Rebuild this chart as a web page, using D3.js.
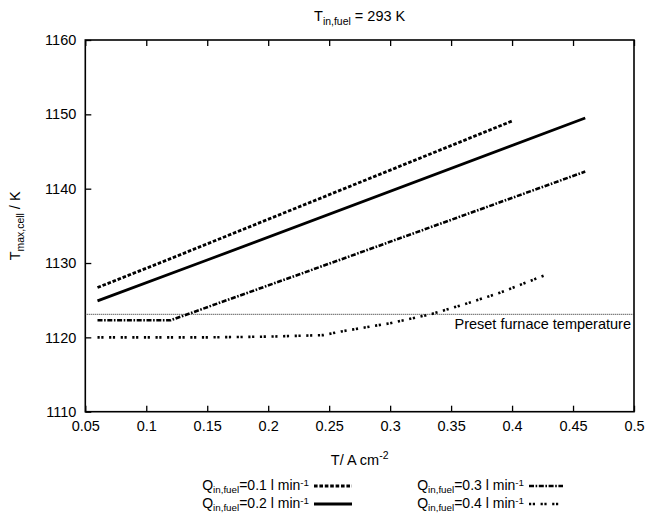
<!DOCTYPE html>
<html>
<head>
<meta charset="utf-8">
<script src="https://cdn.jsdelivr.net/npm/d3@7"></script>
<style>
  html, body { margin: 0; padding: 0; background: #fff; }
  svg { display: block; font-family: "Liberation Sans", Arial, sans-serif; }
</style>
</head>
<body>
<svg id="chart" width="649" height="515"></svg>
<script>
// ---- data ----
const xTicks = [0.05, 0.1, 0.15, 0.2, 0.25, 0.3, 0.35, 0.4, 0.45, 0.5];
const xTickLabels = ["0.05", "0.1", "0.15", "0.2", "0.25", "0.3", "0.35", "0.4", "0.45", "0.5"];
const yTicks = [1110, 1120, 1130, 1140, 1150, 1160];
const yTickLabels = ["1110", "1120", "1130", "1140", "1150", "1160"];

const seriesNames = ["0.1", "0.2", "0.3", "0.4"];
// current density (A cm-2) and max cell temperature (K)
const q01x = [0.06, 0.117, 0.40];
const q01y = [1126.7, 1130.4, 1149.1];
const q02x = [0.06, 0.15, 0.46];
const q02y = [1124.9, 1130.4, 1149.5];
const q03x = [0.06, 0.12, 0.26, 0.46];
const q03y = [1122.3, 1122.3, 1130.5, 1142.3];
const q04x = [0.06, 0.10, 0.15, 0.20, 0.245, 0.26, 0.30, 0.333, 0.36, 0.39, 0.426];
const q04y = [1120.0, 1120.0, 1120.0, 1120.1, 1120.3, 1120.8, 1121.9, 1123.1, 1124.4, 1126.0, 1128.3];
const presetTemp = 1123.1;
const presetLabel = "Preset furnace temperature";

// ---- layout ----
const svg = d3.select("#chart");
const L = 85.3, R = 634, T = 40, B = 411.7;
const x = d3.scaleLinear().domain([0.05, 0.5]).range([L, R]);
const y = d3.scaleLinear().domain([1110, 1160]).range([B, T]);
const FS = 14.5;

const styles = [
  { dash: "3.6,1.8", width: 2.8 },
  { dash: null, width: 2.8 },
  { dash: "5,1.6,1.6,1.6", width: 2.6 },
  { dash: "2.2,1.6,2.2,5.6", width: 2.6 }
];

const series = [
  { name: seriesNames[0], xs: q01x, ys: q01y },
  { name: seriesNames[1], xs: q02x, ys: q02y },
  { name: seriesNames[2], xs: q03x, ys: q03y },
  { name: seriesNames[3], xs: q04x, ys: q04y }
];

// axes
const fmtX = d => xTickLabels[xTicks.indexOf(d)];
const fmtY = d => yTickLabels[yTicks.indexOf(d)];

const gB = svg.append("g").attr("transform", `translate(0,${B})`)
  .call(d3.axisBottom(x).tickValues(xTicks).tickFormat(fmtX).tickSizeInner(-6).tickSizeOuter(0).tickPadding(9));
const gT = svg.append("g").attr("transform", `translate(0,${T})`)
  .call(d3.axisTop(x).tickValues(xTicks).tickFormat("").tickSizeInner(-6).tickSizeOuter(0));
const gL = svg.append("g").attr("transform", `translate(${L},0)`)
  .call(d3.axisLeft(y).tickValues(yTicks).tickFormat(fmtY).tickSizeInner(-6).tickSizeOuter(0).tickPadding(9));

[gB, gT, gL].forEach(g => {
  g.select(".domain").remove();
  g.selectAll(".tick line").attr("stroke", "#000").attr("stroke-width", 1.3);
  g.selectAll(".tick text").attr("fill", "#000").attr("font-size", FS)
    .attr("font-family", "'Liberation Sans', Arial, sans-serif");
});

// frame
svg.append("rect").attr("x", L).attr("y", T).attr("width", R - L).attr("height", B - T)
  .attr("fill", "none").attr("stroke", "#000").attr("stroke-width", 1.6);

// preset furnace line
svg.append("line")
  .attr("x1", x(0.05)).attr("x2", x(0.5))
  .attr("y1", y(presetTemp)).attr("y2", y(presetTemp))
  .attr("stroke", "#222").attr("stroke-width", 1).attr("stroke-dasharray", "1,1");
svg.append("text").attr("x", R - 3).attr("y", y(presetTemp) + 15)
  .attr("text-anchor", "end").attr("font-size", FS).attr("fill", "#000").text(presetLabel);

// series lines
const line = d3.line().x(d => x(d[0])).y(d => y(d[1]));
series.forEach((s, i) => {
  const pts = s.xs.map((v, k) => [v, s.ys[k]]);
  svg.append("path").datum(pts).attr("d", line)
    .attr("fill", "none").attr("stroke", "#000")
    .attr("stroke-width", styles[i].width)
    .attr("stroke-dasharray", styles[i].dash)
    .attr("stroke-linejoin", "round");
});

// title
const title = svg.append("text").attr("x", (L + R) / 2).attr("y", 21)
  .attr("text-anchor", "middle").attr("font-size", FS);
title.append("tspan").text("T");
title.append("tspan").attr("font-size", FS * 0.72).attr("dy", 4).text("in,fuel");
title.append("tspan").attr("dy", -4).text(" = 293 K");

// y-axis title
const yt = svg.append("text")
  .attr("transform", `translate(20,${(T + B) / 2}) rotate(-90)`)
  .attr("text-anchor", "middle").attr("font-size", FS);
yt.append("tspan").text("T");
yt.append("tspan").attr("font-size", FS * 0.72).attr("dy", 4).text("max,cell");
yt.append("tspan").attr("dy", -4).text(" / K");

// x-axis title
const xt = svg.append("text").attr("x", (L + R) / 2).attr("y", 465)
  .attr("text-anchor", "middle").attr("font-size", FS);
xt.append("tspan").text("T/ A cm");
xt.append("tspan").attr("font-size", FS * 0.72).attr("dy", -6).text("-2");

// legend
const legendPos = [
  { tx: 309, lx1: 314, lx2: 352, ly: 486 },
  { tx: 309, lx1: 314, lx2: 352, ly: 504 },
  { tx: 524, lx1: 529, lx2: 563, ly: 486 },
  { tx: 524, lx1: 529, lx2: 563, ly: 504 }
];
const LFS = 14;
series.forEach((s, i) => {
  const p = legendPos[i];
  const t = svg.append("text").attr("x", p.tx).attr("y", p.ly + 4)
    .attr("text-anchor", "end").attr("font-size", LFS);
  t.append("tspan").text("Q");
  t.append("tspan").attr("font-size", LFS * 0.7).attr("dy", 2.5).text("in,fuel");
  t.append("tspan").attr("dy", -2.5).text("=" + s.name + " l min");
  t.append("tspan").attr("font-size", LFS * 0.7).attr("dy", -4.5).text("-1");
  svg.append("line").attr("x1", p.lx1).attr("x2", p.lx2).attr("y1", p.ly).attr("y2", p.ly)
    .attr("stroke", "#000").attr("stroke-width", styles[i].width)
    .attr("stroke-dasharray", styles[i].dash);
});
</script>
</body>
</html>
